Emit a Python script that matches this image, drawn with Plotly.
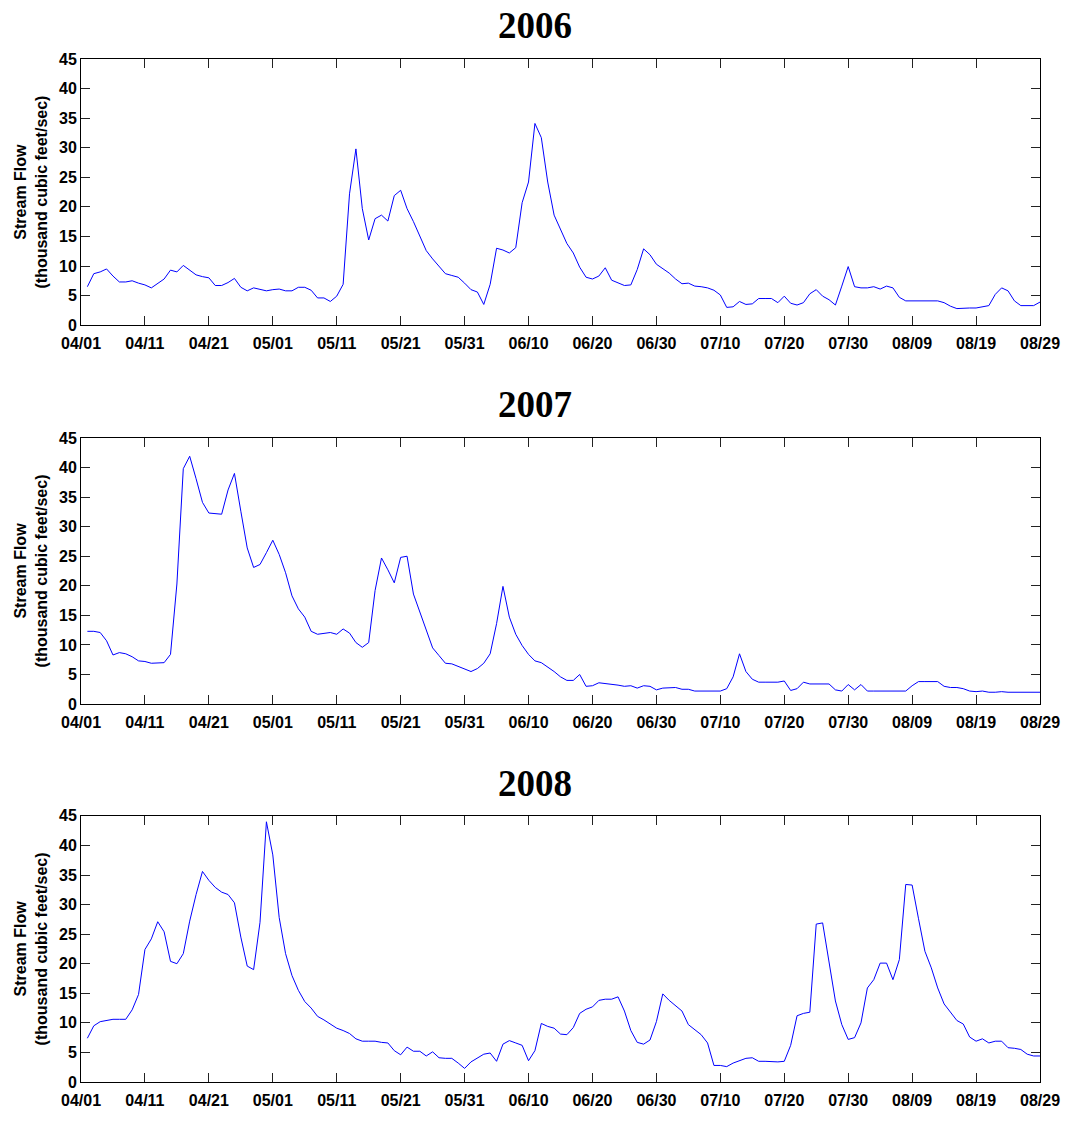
import pandas as pd
import plotly.graph_objects as go

YEARS = [2006, 2007, 2008]

flow_2006 = [
    6.5, 8.7, 9.0, 9.5, 8.3, 7.3, 7.3, 7.5, 7.1, 6.8, 6.3, 7.0, 7.8, 9.3, 9.0, 10.1, 9.3, 8.5, 8.2, 8.0,
    6.7, 6.7, 7.2, 7.9, 6.4, 5.8, 6.3, 6.0, 5.8, 6.0, 6.1, 5.8, 5.8, 6.4, 6.4, 5.9, 4.6, 4.6, 4.0,
    4.9, 6.9, 22.2, 29.8, 19.7, 14.4, 18.0, 18.6, 17.6, 21.9, 22.8, 19.7, 17.5, 15.0, 12.6, 11.2, 9.9,
    8.7, 8.4, 8.1, 7.1, 6.0, 5.6, 3.5, 6.9, 13.0, 12.7, 12.2, 13.1, 20.7, 24.2, 34.1, 31.7, 24.2, 18.6,
    16.1, 13.8,
    12.2, 9.8, 8.1, 7.8, 8.3, 9.7, 7.6, 7.1, 6.7, 6.8, 9.4, 12.9, 11.9, 10.3, 9.5, 8.8, 7.8, 7.0, 7.1,
    6.6, 6.5, 6.3, 5.9, 5.1, 3.0, 3.1, 4.0, 3.5, 3.6, 4.5, 4.5, 4.5, 3.8, 4.9, 3.7, 3.4, 3.8, 5.3,
    6.0, 4.9, 4.3, 3.4, 6.6, 9.9, 6.5, 6.3, 6.3, 6.5, 6.1, 6.6, 6.3, 4.7, 4.1, 4.1, 4.0, 4.1, 4.1, 4.1,
    3.8, 3.2, 2.8, 2.9, 2.9, 2.9, 3.1, 3.3, 5.2, 6.3, 5.8, 4.1, 3.3, 3.3, 3.3, 3.9,
]

flow_2007 = [
    12.3, 12.3, 12.1, 10.7, 8.3, 8.7, 8.5, 8.0, 7.3, 7.2, 6.9, 6.9, 7.0, 8.4, 20.3, 39.8, 41.9, 38.1,
    34.1, 32.3, 32.2, 32.1, 36.2, 39.0, 32.6, 26.4, 23.1, 23.6, 25.6, 27.7, 25.3, 22.2, 18.3, 16.1,
    14.7, 12.3, 11.8, 12.0, 12.1,
    11.8, 12.7, 12.0, 10.4, 9.6, 10.4, 19.2, 24.7, 22.7, 20.5, 24.8, 25.0, 18.6, 15.5, 12.6, 9.5, 8.2,
    6.9, 6.8, 6.4, 6.0, 5.5, 6.0, 6.9, 8.5, 13.6, 19.9, 14.7, 11.8, 9.9, 8.4, 7.3, 7.0, 6.3, 5.5, 4.6,
    4.0,
    4.0, 5.0, 3.0, 3.1, 3.6, 3.5, 3.4, 3.2, 3.0, 3.1, 2.7, 3.1, 3.0, 2.4, 2.7, 2.7, 2.8, 2.5, 2.5, 2.2,
    2.2, 2.2, 2.2, 2.2, 2.6, 4.6, 8.5, 5.5, 4.2, 3.7, 3.7, 3.7, 3.7, 3.9, 2.3, 2.6, 3.7, 3.4,
    3.4, 3.4, 3.4, 2.4, 2.2, 3.3, 2.4, 3.3, 2.2, 2.2, 2.2, 2.2, 2.2, 2.2, 2.2, 3.1, 3.8, 3.8, 3.8, 3.8,
    3.0, 2.8, 2.8, 2.6, 2.2, 2.1, 2.2, 2.0, 2.0, 2.1, 2.0, 2.0, 2.0, 2.0, 2.0, 2.0,
]

flow_2008 = [
    7.4, 9.5, 10.2, 10.4, 10.6, 10.6, 10.6, 12.2, 14.8, 22.4, 24.2, 27.1, 25.4, 20.4, 20.0, 21.7, 27.2,
    31.7, 35.6, 34.1, 32.9, 32.1, 31.7, 30.3, 24.5, 19.6, 19.0, 27.0, 44.0, 38.4, 27.8, 21.7, 18.0,
    15.5, 13.6, 12.5, 11.1, 10.5, 9.8,
    9.1, 8.7, 8.2, 7.3, 6.9, 6.9, 6.9, 6.7, 6.6, 5.3, 4.6, 5.9, 5.2, 5.2, 4.4, 5.1, 4.1, 4.0, 4.0, 3.2,
    2.3, 3.4, 4.0, 4.7, 4.9, 3.5, 6.4, 7.0, 6.6, 6.2, 3.6, 5.3, 9.9, 9.4, 9.1, 8.1, 8.0,
    9.2, 11.6, 12.3, 12.7, 13.8, 14.0, 14.0, 14.4, 12.0, 8.7, 6.7, 6.4, 7.1, 10.2, 14.9, 13.8, 12.9,
    12.0, 9.7, 8.8, 8.0, 6.6, 2.8, 2.8, 2.6, 3.2, 3.6, 4.0, 4.1, 3.5, 3.5, 3.4, 3.4, 3.5, 6.2, 11.2,
    11.6, 11.8,
    26.7, 26.9, 20.4, 13.7, 9.7, 7.2, 7.5, 10.0, 15.9, 17.3, 20.1, 20.1, 17.3, 20.7, 33.4, 33.3, 27.6,
    22.1, 19.3, 15.9, 13.2, 11.8, 10.4, 9.8, 7.6, 6.9, 7.3, 6.6, 6.9, 6.9, 5.8, 5.7, 5.5, 4.7, 4.4, 4.4,
]

SERIES = [flow_2006, flow_2007, flow_2008]
Y_TICKS = [0, 5, 10, 15, 20, 25, 30, 35, 40, 45]
Y_TITLE = "Stream Flow<br>(thousand cubic feet/sec)"

# ---- layout geometry (window pixels; body margin removed below) ----
W, H = 1072, 1121
PL, PR, PT, PB = 81, 1045, 59, 1093
panels_px = [(59, 328), (442, 711), (824, 1093)]
title_px = [25, 408, 791]
title_x_px = 537
ph = PB - PT
pw = PR - PL

tick_font = dict(family="Liberation Sans, Arial, sans-serif", size=16, color="black", weight="bold")

fig = go.Figure()
layout = dict(
    width=W, height=H,
    margin=dict(l=PL, r=W - PR, t=PT, b=H - PB, pad=0),
    paper_bgcolor="white", plot_bgcolor="white",
    showlegend=False,
    annotations=[],
)

for i, (year, vals) in enumerate(zip(YEARS, SERIES)):
    sfx = "" if i == 0 else str(i + 1)
    dates = pd.date_range(f"{year}-04-02", periods=len(vals))
    ticks = pd.date_range(f"{year}-04-01", f"{year}-08-29", freq="10D")
    fig.add_trace(go.Scatter(
        x=dates, y=vals, mode="lines",
        line=dict(color="#0000ff", width=1),
        xaxis="x" + sfx, yaxis="y" + sfx, hoverinfo="skip",
    ))
    top, bot = panels_px[i]
    ydom = [(PB - bot) / ph, (PB - top) / ph]
    layout["xaxis" + sfx] = dict(
        domain=[0, 1], anchor="y" + sfx, type="date",
        range=[ticks[0], ticks[-1]],
        tickvals=list(ticks), tickformat="%m/%d",
        ticks="inside", ticklen=9, tickwidth=1, tickcolor="#222",
        showline=True, linecolor="black", linewidth=1, mirror="ticks",
        showgrid=False, zeroline=False, tickfont=tick_font,
        ticklabelstandoff=4,
    )
    layout["yaxis" + sfx] = dict(
        domain=ydom, anchor="x" + sfx,
        range=[0, 45], tickvals=Y_TICKS,
        ticks="inside", ticklen=9, tickwidth=1, tickcolor="#222",
        showline=True, linecolor="black", linewidth=1, mirror="ticks",
        showgrid=False, zeroline=False, tickfont=tick_font,
        title=dict(text=Y_TITLE, standoff=7,
                   font=dict(family="Liberation Sans, Arial, sans-serif", size=16,
                             color="black", weight="bold")),
    )
    layout["annotations"].append(dict(
        text=str(year), xref="paper", yref="paper",
        x=(title_x_px - PL) / pw, y=(PB - title_px[i]) / ph,
        xanchor="center", yanchor="middle", showarrow=False,
        font=dict(family="Liberation Serif, Times New Roman, serif", size=37,
                  color="black", weight="bold"),
    ))

fig.update_layout(**layout)
fig.write_html(
    "out.html",
    config={"displayModeBar": False, "staticPlot": True},
    post_script="document.body.style.margin='0';document.body.style.overflow='hidden';",
)
